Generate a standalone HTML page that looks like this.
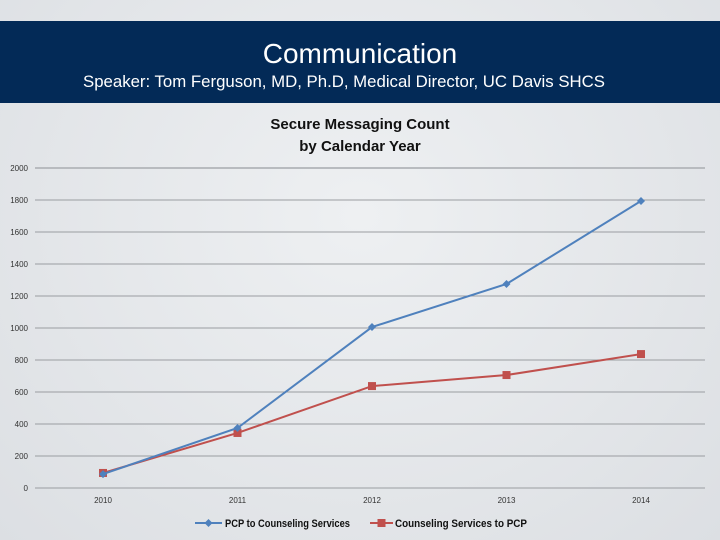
<!DOCTYPE html>
<html><head><meta charset="utf-8"><style>
body{margin:0;width:720px;height:540px;overflow:hidden;background:radial-gradient(ellipse at 50% 40%,#eef0f2,#dcdfe3);font-family:"Liberation Sans",sans-serif}
#band{position:absolute;left:0;top:21px;width:720px;height:82px;background:#032a57;color:#fff;text-align:center}
#band h1{margin:0;position:absolute;top:17px;width:100%;font-size:28px;font-weight:normal}
#band p{margin:0;position:absolute;top:51px;left:-16px;width:100%;font-size:16.8px}
svg{position:absolute;left:0;top:0}
</style></head><body>
<div id="band">
<h1>Communication</h1>
<p>Speaker: Tom Ferguson, MD, Ph.D, Medical Director, UC Davis SHCS</p>
</div>
<svg id="chart" width="720" height="540">
<text x="360" y="129" text-anchor="middle" font-size="15" font-weight="bold" fill="#111">Secure Messaging Count</text>
<text x="360" y="151" text-anchor="middle" font-size="15" font-weight="bold" fill="#111">by Calendar Year</text>
</svg>
<script>
const years=["2010","2011","2012","2013","2014"];
const pcp=[87,375,1006,1275,1794];
const couns=[94,344,637,706,837];
const yTicks=[0,200,400,600,800,1000,1200,1400,1600,1800,2000];
const NS="http://www.w3.org/2000/svg";
const svg=document.getElementById('chart');
const y=v=>488-v*0.16;
const x=i=>103+i*134.5;
function mk(t,a,p){const e=document.createElementNS(NS,t);for(const k in a)e.setAttribute(k,a[k]);(p||svg).appendChild(e);return e;}
yTicks.forEach(v=>{
 const l=mk('line',{x1:35,x2:705,y1:y(v),y2:y(v),stroke:v===2000?'#b8bbbf':'#9a9da1','stroke-width':v===2000?2:1});
 
 
 const t=mk('text',{x:28,y:y(v)+3,'text-anchor':'end','font-size':8,fill:'#333'});t.textContent=v;
 
 
});
years.forEach((yr,i)=>{
 const t=mk('text',{x:x(i),y:503,'text-anchor':'middle','font-size':8,fill:'#333'});t.textContent=yr;
 
 
});
function series(vals,color,shape,name){
 const pl=mk('polyline',{points:vals.map((v,i)=>x(i)+','+y(v)).join(' '),fill:'none',stroke:color,'stroke-width':2});
 
 
 vals.forEach((v,i)=>{
  let m;
  if(shape==='d'){const cx=x(i),cy=y(v);m=mk('polygon',{points:`${cx},${cy-4} ${cx+4},${cy} ${cx},${cy+4} ${cx-4},${cy}`,fill:color});}
  else m=mk('rect',{x:x(i)-4,y:y(v)-4,width:8,height:8,fill:color});
  
  
 });
}
series(couns,'#c0504d','s','counseling-to-pcp');
series(pcp,'#4f81bd','d','pcp-to-counseling');
const lg=mk('g',{});


mk('line',{x1:195,x2:222,y1:523,y2:523,stroke:'#4f81bd','stroke-width':2},lg);
mk('polygon',{points:'208.5,519 212.5,523 208.5,527 204.5,523',fill:'#4f81bd'},lg);
let t=mk('text',{x:225,y:527,'font-size':11,'font-weight':'bold',fill:'#111',textLength:125,lengthAdjust:'spacingAndGlyphs'},lg);t.textContent='PCP to Counseling Services';
mk('line',{x1:370,x2:393,y1:523,y2:523,stroke:'#c0504d','stroke-width':2},lg);
mk('rect',{x:377.5,y:519,width:8,height:8,fill:'#c0504d'},lg);
t=mk('text',{x:395,y:527,'font-size':11,'font-weight':'bold',fill:'#111',textLength:132,lengthAdjust:'spacingAndGlyphs'},lg);t.textContent='Counseling Services to PCP';
</script>
</body></html>
